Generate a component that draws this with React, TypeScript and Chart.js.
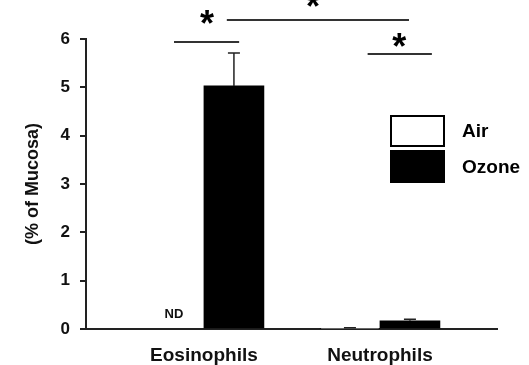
import React, { useEffect, useRef } from "react";
import { Chart, registerables } from "chart.js";

Chart.register(...registerables);

const categories = ["Eosinophils", "Neutrophils"];
const seriesLabels = ["Air", "Ozone"];
const airValues: (number | null)[] = [null, 0.01];
const ozoneValues: (number | null)[] = [5.03, 0.17];
const airErrors: (number | null)[] = [null, 0.015];
const ozoneErrors: (number | null)[] = [0.68, 0.03];
const yTicks = [0, 1, 2, 3, 4, 5, 6];
const yTitle = "(% of Mucosa)";
const notDetected = [{ x: -0.17, y: 0.3, text: "ND" }];
// significance brackets (x in category units, y in value units)
const sigLines = [
  { x1: -0.17, x2: 0.2, y: 5.94 },
  { x1: 0.13, x2: 1.165, y: 6.4 },
  { x1: 0.93, x2: 1.295, y: 5.69 },
];
const sigStars = [
  { x: 0.017, y: 6.42 },
  { x: 0.62, y: 6.78 },
  { x: 1.11, y: 5.94 },
];

const FONT = '"Liberation Sans", Arial, Helvetica, sans-serif';

export default function App() {
  const ref = useRef<HTMLCanvasElement | null>(null);
  useEffect(() => {
    if (!ref.current) return;
    const errorPlugin = {
      id: "extras",
      afterDatasetsDraw(chart: any) {
        const ctx = chart.ctx;
        const x = chart.scales.x;
        const y = chart.scales.y;
        const errs = [airErrors, ozoneErrors];
        ctx.save();
        // error bars
        chart.data.datasets.forEach((ds: any, di: number) => {
          const meta = chart.getDatasetMeta(di);
          meta.data.forEach((bar: any, i: number) => {
            const v = ds.data[i].y;
            const e = errs[di][i];
            if (v == null || e == null) return;
            const px = bar.x;
            const top = y.getPixelForValue(v + e);
            const base = y.getPixelForValue(v);
            ctx.strokeStyle = "#222";
            ctx.lineWidth = 1.5;
            ctx.beginPath();
            ctx.moveTo(px, base);
            ctx.lineTo(px, top);
            ctx.moveTo(px - 6, top);
            ctx.lineTo(px + 6, top);
            ctx.stroke();
          });
        });
        // ND labels
        ctx.fillStyle = "#111";
        ctx.font = `bold 13px ${FONT}`;
        ctx.textAlign = "center";
        ctx.textBaseline = "middle";
        notDetected.forEach((n) => {
          ctx.fillText(n.text, x.getPixelForValue(n.x), y.getPixelForValue(n.y));
        });
        // significance lines
        ctx.strokeStyle = "#333";
        ctx.lineWidth = 2;
        sigLines.forEach((l) => {
          const py = Math.round(y.getPixelForValue(l.y));
          ctx.beginPath();
          ctx.moveTo(x.getPixelForValue(l.x1), py);
          ctx.lineTo(x.getPixelForValue(l.x2), py);
          ctx.stroke();
        });
        const starSize = 36;
        ctx.font = `bold ${starSize}px ${FONT}`;
        ctx.textBaseline = "alphabetic";
        ctx.fillStyle = "#000";
        sigStars.forEach((s) => {
          ctx.fillText("*", x.getPixelForValue(s.x), y.getPixelForValue(s.y) + starSize * 0.48);
        });
        // legend
        const ca = chart.chartArea;
        const bx = ca.right - 106;
        const bw = 53;
        const rows = [
          { top: 116, h: 30, fill: "#ffffff" },
          { top: 151, h: 31, fill: "#000000" },
        ];
        ctx.font = `bold 19px ${FONT}`;
        ctx.textAlign = "left";
        ctx.textBaseline = "middle";
        rows.forEach((r, i) => {
          ctx.fillStyle = r.fill;
          ctx.fillRect(bx, r.top, bw, r.h);
          ctx.strokeStyle = "#000";
          ctx.lineWidth = 2;
          ctx.strokeRect(bx, r.top, bw, r.h);
          ctx.fillStyle = "#000";
          ctx.fillText(chart.data.datasets[i].label, bx + bw + 18, r.top + r.h / 2 + 1);
        });
        ctx.restore();
      },
    };

    const chart = new Chart(ref.current, {
      type: "bar",
      data: {
        datasets: [
          {
            label: seriesLabels[0],
            data: airValues.map((v, i) => ({ x: i, y: v })) as any,
            backgroundColor: "#ffffff",
            borderColor: "#000000",
            borderWidth: 1.5,
            barThickness: 60,
          },
          {
            label: seriesLabels[1],
            data: ozoneValues.map((v, i) => ({ x: i, y: v })) as any,
            backgroundColor: "#000000",
            borderColor: "#000000",
            borderWidth: 0,
            barThickness: 60,
          },
        ],
      },
      options: {
        animation: false,
        responsive: false,
        layout: { padding: { top: 39, right: 32, left: 0, bottom: 0 } },
        plugins: { legend: { display: false }, tooltip: { enabled: false } },
        scales: {
          x: {
            type: "linear",
            min: -0.67,
            max: 1.665,
            offset: false,
            bounds: "data",
            grid: { display: false, offset: false },
            border: { display: true, color: "#222", width: 2 },
            afterFit: (s: any) => {
              s.height = 36;
            },
            afterBuildTicks: (s: any) => {
              s.ticks = categories.map((_, i) => ({ value: i }));
            },
            ticks: {
              autoSkip: false,
              maxRotation: 0,
              padding: 7,
              color: "#111",
              font: { family: FONT, size: 19, weight: "bold" },
              callback: (v: any) => {
                const i = Number(v);
                return Number.isInteger(i) && categories[i] ? categories[i] : "";
              },
            },
          },
          y: {
            min: 0,
            max: 6,
            afterFit: (s: any) => {
              s.width = 86;
            },
            afterBuildTicks: (s: any) => {
              s.ticks = yTicks.map((v) => ({ value: v }));
            },
            grid: {
              display: true,
              drawOnChartArea: false,
              drawTicks: true,
              tickLength: 6,
              color: "#222",
              lineWidth: 2,
            },
            border: { display: true, color: "#222", width: 2 },
            ticks: {
              padding: 10,
              color: "#111",
              font: { family: FONT, size: 17, weight: "bold" },
            },
            title: {
              display: true,
              text: yTitle,
              color: "#111",
              padding: { top: 22, bottom: 0 },
              font: { family: FONT, size: 18, weight: "bold" },
            },
          },
        },
      },
      plugins: [errorPlugin],
    } as any);
    return () => chart.destroy();
  }, []);
  return (
    <div style={{ position: "absolute", left: 0, top: 0, width: 529, height: 365, background: "#fff" }}>
      <canvas ref={ref} width={529} height={365} style={{ display: "block" }} />
    </div>
  );
}
